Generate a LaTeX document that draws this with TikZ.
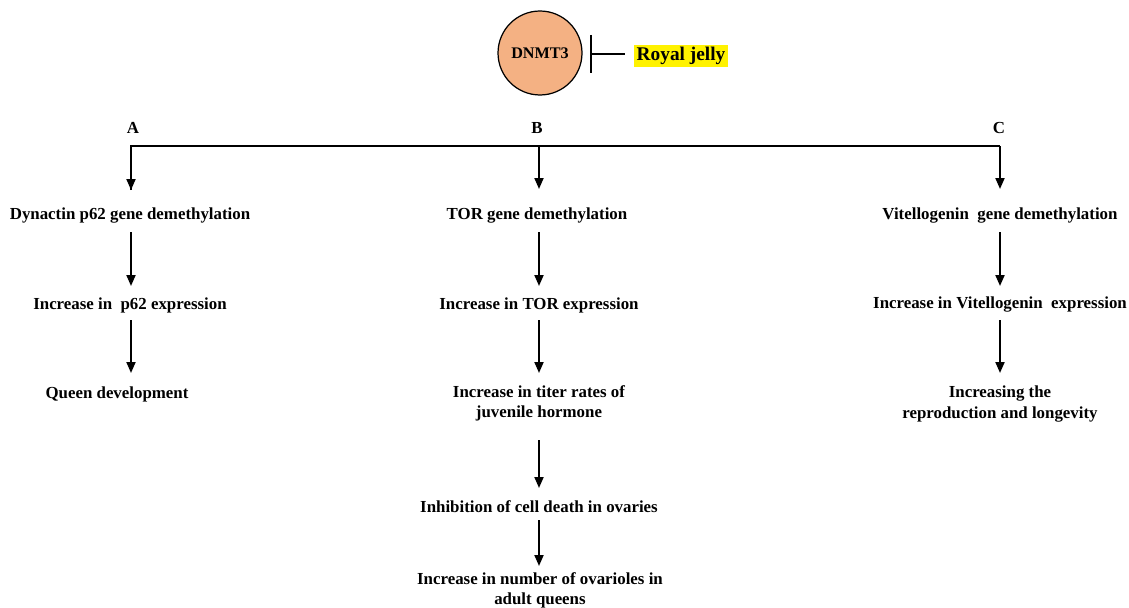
\documentclass[tikz,border=0pt]{standalone}
\usepackage{fontspec}
\setmainfont{Liberation Serif}
\usetikzlibrary{arrows.meta,positioning}

\begin{document}
\begin{tikzpicture}[x=0.02cm,y=-0.02cm,
    txt/.style={font=\bfseries\fontsize{9.6}{11.5}\selectfont,align=center,inner sep=1pt},
    flow/.style={draw=black,line width=1.1pt,-{Triangle[length=2.2mm,width=1.8mm]}}]
  \useasboundingbox (0,0) rectangle (1129,608);
  \node[circle,draw=black,line width=0.7pt,fill={rgb,255:red,244;green,177;blue,131},minimum size=1.68cm,txt,font=\bfseries\fontsize{9.2}{11}\selectfont] (dnmt) at (540,53) {DNMT3};
  \node[txt,fill=yellow,inner sep=1.5pt,font=\bfseries\fontsize{11}{13}\selectfont] (rj) at (681,56) {Royal jelly};
  \coordinate (bar) at (591,54);
  \draw[line width=1.1pt] (bar) -- (625,54);
  \draw[line width=1.1pt] (591,35) -- (591,73);
  % branch labels
  \node[txt] (la) at (133,128) {A};
  \node[txt] (lb) at (537,128) {B};
  \node[txt] (lc) at (999,128) {C};
  \coordinate (ba) at (131,146);
  \coordinate (bb) at (539,146);
  \coordinate (bc) at (1000,146);
  \draw[line width=1.1pt] (131,190) -- (ba) -- (bc);
  % column A
  \node[txt] (a1) at (130,216) {Dynactin p62 gene demethylation};
  \node[txt] (a2) at (130,305) {Increase in\ \ p62 expression};
  \node[txt] (a3) at (117,394) {Queen development};
  % column B
  \node[txt] (b1) at (537,216) {TOR gene demethylation};
  \node[txt] (b2) at (539,305) {Increase in TOR expression};
  \node[txt] (b3) at (539,403) {Increase in titer rates of\\juvenile hormone};
  \node[txt] (b4) at (539,507) {Inhibition of cell death in ovaries};
  \node[txt] (b5) at (540,590) {Increase in number of ovarioles in\\adult queens};
  % column C
  \node[txt] (c1) at (1000,216) {Vitellogenin\ \ gene demethylation};
  \node[txt] (c2) at (1000,305) {Increase in Vitellogenin\ \ expression};
  \node[txt] (c3) at (1000,404) {Increasing the\\reproduction and longevity};
  \draw[flow] (ba) -- (131,190);
  \draw[flow] (bb) -- (539,189);
  \draw[flow] (bc) -- (1000,189);
  \draw[flow] (131,232) -- (131,286);
  \draw[flow] (131,320) -- (131,373);
  \draw[flow] (539,232) -- (539,286);
  \draw[flow] (539,320) -- (539,373);
  \draw[flow] (539,440) -- (539,488);
  \draw[flow] (539,520) -- (539,566);
  \draw[flow] (1000,232) -- (1000,286);
  \draw[flow] (1000,320) -- (1000,373);
\end{tikzpicture}
\end{document}
